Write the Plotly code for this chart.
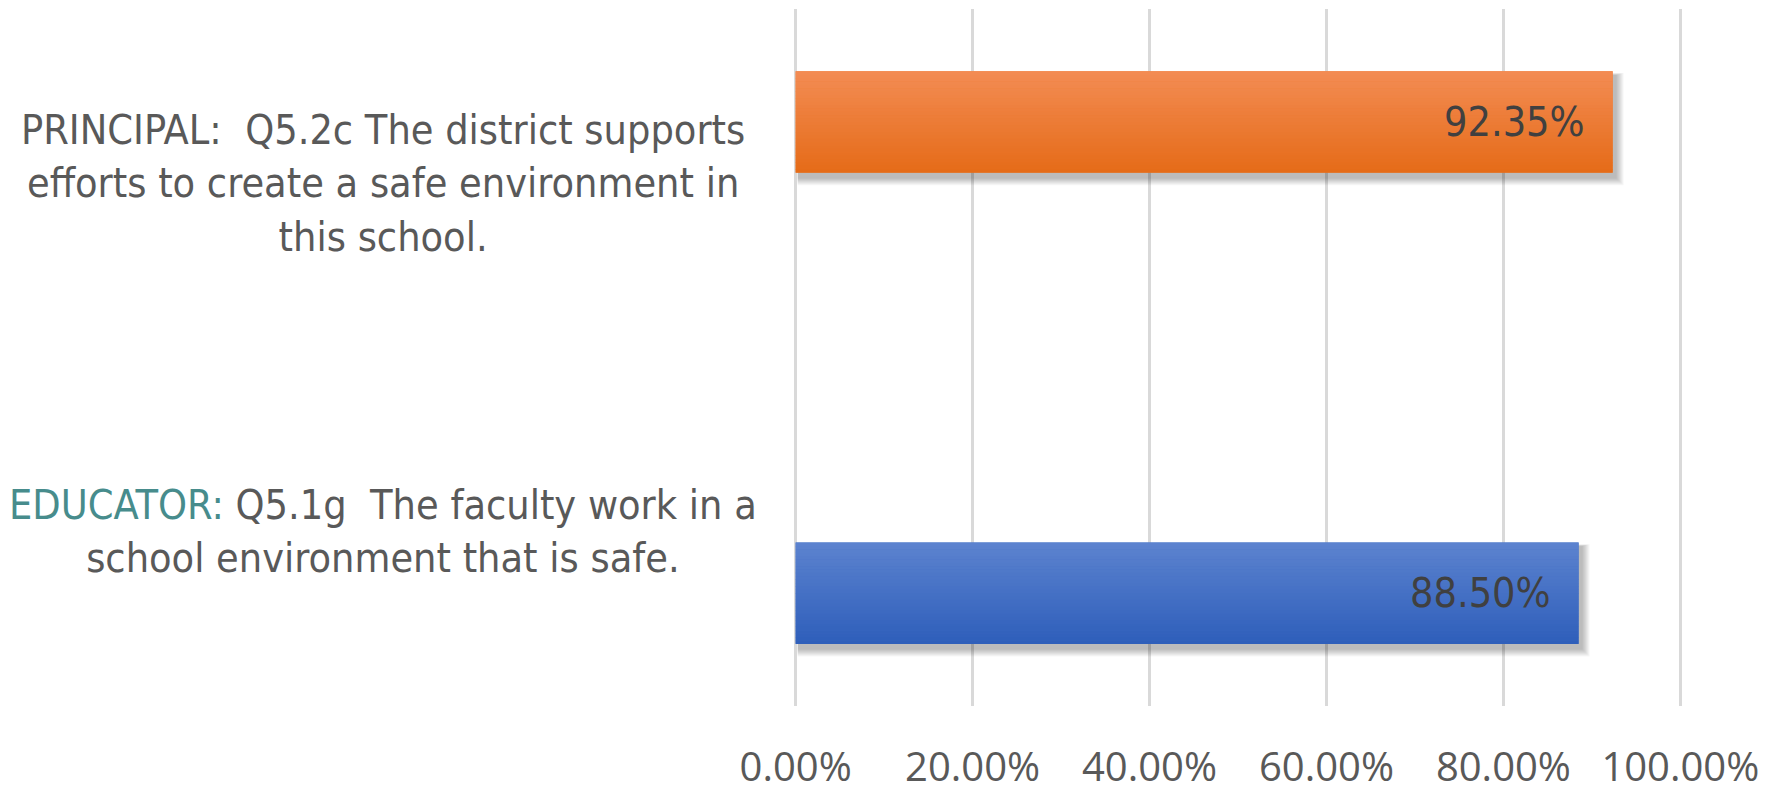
import plotly.graph_objects as go

# ---- data ----
categories = ["EDUCATOR", "PRINCIPAL"]
label_lines = [
    ["<span style='color:#478C8C'>EDUCATOR:</span> Q5.1g  The faculty work in a",
     "school environment that is safe."],
    ["PRINCIPAL:  Q5.2c The district supports",
     "efforts to create a safe environment in",
     "this school."],
]
educator_values = [0.8850, None]
principal_values = [None, 0.9235]
tick_vals = [0, 0.2, 0.4, 0.6, 0.8, 1.0]

BLUE = "#4472C4"
ORANGE = "#ED7D31"
GRAY = "#595959"
LABEL_FONT = "DejaVu Sans Condensed, sans-serif"
TICK_FONT = "Open Sans, sans-serif"

BARGAP, GROUPGAP = 0.296, 0.176
bar_h = (1 - BARGAP) / 2 * (1 - GROUPGAP)
grp_off = (1 - BARGAP) / 4

fig = go.Figure()
fig.add_trace(go.Bar(y=categories, x=educator_values, orientation="h",
                     marker=dict(color=BLUE, line=dict(width=0)), showlegend=False))
fig.add_trace(go.Bar(y=categories, x=principal_values, orientation="h",
                     marker=dict(color=ORANGE, line=dict(width=0)), showlegend=False))

# plot-area scale (px per data unit) used for decorative shadow / gradient
XR = (-0.003, 1.003)
PLOT_W = 1768 - 793 - 84
PLOT_H = 802 - 9 - 89
px_x = (XR[1] - XR[0]) / PLOT_W
px_y = 2.0 / PLOT_H

gradients = {
    "edu": ((92, 131, 207), (46, 94, 186)),
    "pri": ((243, 140, 84), (229, 107, 24)),
}

for key, vals, offset in (("edu", educator_values, -grp_off), ("pri", principal_values, grp_off)):
    for idx, v in enumerate(vals):
        if v is None:
            continue
        yc = idx + offset
        y0, y1 = yc - bar_h / 2, yc + bar_h / 2
        # soft shadow below/right of the bar
        for k in range(8, 0, -1):
            fig.add_shape(type="rect", xref="x", yref="y", layer="between",
                          x0=0 + 2 * px_x, x1=v + (3 + k) * px_x,
                          y0=y0 - (5 + k) * px_y, y1=y1 - (4 - k * 0.3) * px_y,
                          fillcolor="rgba(0,0,0,0.035)", line=dict(width=0))
        # vertical gradient fill over the bar
        top, bot = gradients[key]
        n = 30
        for s in range(n):
            t = (s + 0.5) / n
            c = tuple(round(top[j] + (bot[j] - top[j]) * t) for j in range(3))
            sy1 = y1 - (y1 - y0) * s / n
            sy0 = y1 - (y1 - y0) * (s + 1) / n
            fig.add_shape(type="rect", xref="x", yref="y", layer="above",
                          x0=0, x1=v, y0=sy0 - 0.3 * px_y, y1=sy1,
                          fillcolor=f"rgb{c}", line=dict(width=0))
        fig.add_annotation(x=v, y=yc, xref="x", yref="y",
                           text=f"{v*100:.2f}%", showarrow=False,
                           xanchor="right", yanchor="middle", xshift=-26,
                           font=dict(family=LABEL_FONT, size=41, color="#404040"))

# category labels (centred multi-line)
for i, lines in enumerate(label_lines):
    fig.add_annotation(x=-0.461, y=i, xref="paper", yref="y",
                       text="<br>".join(lines), showarrow=False,
                       xanchor="center", yanchor="middle", align="center",
                       font=dict(family=LABEL_FONT, size=41, color=GRAY))

fig.update_layout(
    width=1768, height=802,
    margin=dict(l=793, r=84, t=9, b=89),
    paper_bgcolor="white", plot_bgcolor="white",
    barmode="group", bargap=BARGAP, bargroupgap=GROUPGAP,
)
fig.update_xaxes(range=list(XR), tickvals=tick_vals, tickformat=".2%",
                 showgrid=True, gridcolor="#D9D9D9", gridwidth=3,
                 zeroline=True, zerolinecolor="#D9D9D9", zerolinewidth=3,
                 showline=False, ticks="",
                 ticklabelstandoff=34,
                 tickfont=dict(family=TICK_FONT, size=40, color=GRAY))
fig.update_yaxes(range=[-0.5, 1.5], showticklabels=False, showgrid=False,
                 zeroline=False, showline=False, ticks="",
                 type="category")

fig.write_html("out.html")
